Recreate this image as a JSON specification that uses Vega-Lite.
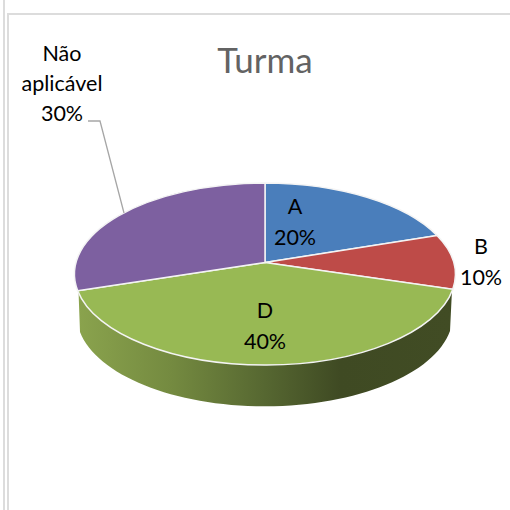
{
  "$schema": "https://vega.github.io/schema/vega-lite/v6.json",
  "width": 510,
  "height": 510,
  "padding": 0,
  "autosize": "none",
  "background": "white",
  "title": {
    "text": "Turma",
    "font": "Lato",
    "fontSize": 35,
    "fontWeight": "normal",
    "color": "#636363",
    "anchor": "middle",
    "baseline": "top",
    "offset": 0,
    "dx": 10,
    "dy": 84
  },
  "data": {
    "values": [
      {"slice": "A", "value": 20, "label": "A\n20%"},
      {"slice": "B", "value": 10, "label": "B\n10%"},
      {"slice": "D", "value": 40, "label": "D\n40%"},
      {"slice": "Não aplicável", "value": 30, "label": "Não\naplicável\n30%"}
    ]
  },
  "layer": [
    {
      "transform": [{"filter": "datum.slice === 'A'"}],
      "mark": {
        "type": "point",
        "filled": false,
        "opacity": 1,
        "size": 4,
        "stroke": "#dcdcdc",
        "strokeWidth": 2,
        "shape": "M-251,-255 L-251,255 M-247,255 L-247,-241 L255,-241"
      },
      "encoding": {}
    },
    {
      "transform": [{"filter": "datum.slice === 'D'"}],
      "mark": {
        "type": "point",
        "filled": true,
        "opacity": 1,
        "size": 4,
        "strokeWidth": 0,
        "shape": "M-176.5,36 A190.5,91 0 0 0 197,35 L195,76 A188,91 0 0 1 -175,77 Z",
        "fill": {
          "gradient": "linear",
          "x1": 0, "y1": 0, "x2": 1, "y2": 0,
          "stops": [
            {"offset": 0, "color": "#8aa34d"},
            {"offset": 0.25, "color": "#748a40"},
            {"offset": 0.5, "color": "#566731"},
            {"offset": 0.7, "color": "#3f4a23"},
            {"offset": 1, "color": "#414c24"}
          ]
        }
      },
      "encoding": {}
    },
    {
      "mark": {"type": "point", "filled": true, "opacity": 1, "size": 4, "stroke": "#f4f4f4", "strokeWidth": 1.5},
      "encoding": {
        "shape": {
          "field": "slice",
          "type": "nominal",
          "legend": null,
          "scale": {
            "domain": ["A", "B", "D", "Não aplicável"],
            "range": [
              "M10,7.5 L10,-72 A190.5,91 0 0 1 182,-19.5 Z",
              "M10,7.5 L182,-19.5 A190.5,91 0 0 1 197.8,34.3 Z",
              "M10,7.5 L197.8,34.3 A190.5,91 0 0 1 -177.3,35.7 Z",
              "M10,7.5 L-177.3,35.7 A190.5,91 0 0 1 10,-72 Z"
            ]
          }
        },
        "fill": {
          "field": "slice",
          "type": "nominal",
          "legend": null,
          "scale": {
            "domain": ["A", "B", "D", "Não aplicável"],
            "range": ["#4a7ebb", "#be4b48", "#98b954", "#7d60a0"]
          }
        }
      }
    },
    {
      "transform": [{"filter": "datum.slice === 'Não aplicável'"}],
      "mark": {
        "type": "point",
        "filled": false,
        "opacity": 1,
        "size": 4,
        "stroke": "#a6a6a6",
        "strokeWidth": 1.3,
        "shape": "M-167,-134 L-155,-134 L-131,-42"
      },
      "encoding": {}
    },
    {
      "transform": [{"filter": "datum.slice === 'A'"}],
      "mark": {"type": "text", "font": "Lato", "fontSize": 21.5, "color": "#000000", "lineBreak": "\n", "lineHeight": 31, "align": "center", "baseline": "middle", "dx": 40, "dy": -47.5},
      "encoding": {"text": {"field": "label"}}
    },
    {
      "transform": [{"filter": "datum.slice === 'B'"}],
      "mark": {"type": "text", "font": "Lato", "fontSize": 21.5, "color": "#000000", "lineBreak": "\n", "lineHeight": 31, "align": "center", "baseline": "middle", "dx": 226, "dy": -7.5},
      "encoding": {"text": {"field": "label"}}
    },
    {
      "transform": [{"filter": "datum.slice === 'D'"}],
      "mark": {"type": "text", "font": "Lato", "fontSize": 21.5, "color": "#000000", "lineBreak": "\n", "lineHeight": 31, "align": "center", "baseline": "middle", "dx": 10, "dy": 56.5},
      "encoding": {"text": {"field": "label"}}
    },
    {
      "transform": [{"filter": "datum.slice === 'Não aplicável'"}],
      "mark": {"type": "text", "font": "Lato", "fontSize": 21.5, "color": "#000000", "lineBreak": "\n", "lineHeight": 30, "align": "center", "baseline": "middle", "dx": -193, "dy": -200},
      "encoding": {"text": {"field": "label"}}
    }
  ],
  "config": {"view": {"stroke": null}}
}
